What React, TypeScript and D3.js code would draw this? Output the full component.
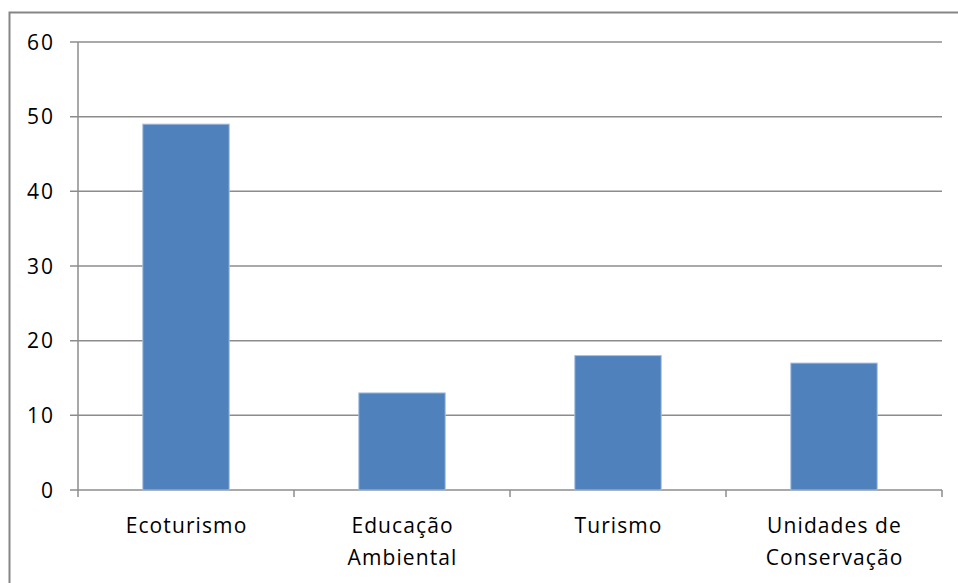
import React from "react";
import * as d3 from "d3";

const categories: string[][] = [["Ecoturismo"], ["Educação", "Ambiental"], ["Turismo"], ["Unidades de", "Conservação"]];
const values: number[] = [49, 13, 18, 17];
const yTicks: number[] = [0, 10, 20, 30, 40, 50, 60];

const W = 958;
const H = 583;
const left = 78;
const right = 942;
const top = 42;
const bottom = 490;
const FONT = "'Open Sans', 'DejaVu Sans', sans-serif";
const LS = 1.1;

export default function App() {
  const keys = categories.map((c) => c.join(" "));
  const x = d3.scaleBand<string>().domain(keys).range([left, right]).paddingInner(0.6).paddingOuter(0.3);
  const xt = d3.scaleBand<string>().domain(keys).range([left, right]).padding(0);
  const y = d3.scaleLinear().domain([0, 60]).range([bottom, top]);

  return (
    <svg width={W} height={H} style={{ position: "absolute", left: 0, top: 0, background: "#fff" }}>
      <rect x={9.5} y={12.5} width={980} height={600} fill="#fff" stroke="#868686" strokeWidth={2} />
      {yTicks.map((t) => (
        <g key={t}>
          <line x1={70} x2={right} y1={y(t)} y2={y(t)} stroke="#8c8c8c" strokeWidth={1.5} />
          <text x={54 + LS} y={y(t)} dy="0.36em" textAnchor="end" fontFamily={FONT} fontSize={21} letterSpacing={LS + 1} fill="#000">
            {t}
          </text>
        </g>
      ))}
      <line x1={left} x2={left} y1={top} y2={bottom} stroke="#8c8c8c" strokeWidth={1.5} />
      {keys.map((k) => (
        <line key={"t" + k} x1={xt(k)!} x2={xt(k)!} y1={bottom} y2={bottom + 7} stroke="#8c8c8c" strokeWidth={1.5} />
      ))}
      <line x1={right} x2={right} y1={bottom} y2={bottom + 7} stroke="#8c8c8c" strokeWidth={1.5} />
      {values.map((v, i) => (
        <rect
          key={keys[i]}
          x={x(keys[i])!}
          y={y(v)}
          width={x.bandwidth()}
          height={bottom - y(v)}
          fill="#4f81bd"
          stroke="#a7bfdf"
          strokeWidth={1}
        />
      ))}
      {categories.map((lines, i) => (
        <text
          key={"l" + i}
          y={533}
          textAnchor="middle"
          fontFamily={FONT}
          fontSize={21}
          letterSpacing={LS}
          fill="#000"
        >
          {lines.map((l, j) => (
            <tspan key={j} x={xt(keys[i])! + xt.bandwidth() / 2 + LS / 2} dy={j === 0 ? 0 : 32}>
              {l}
            </tspan>
          ))}
        </text>
      ))}
    </svg>
  );
}
